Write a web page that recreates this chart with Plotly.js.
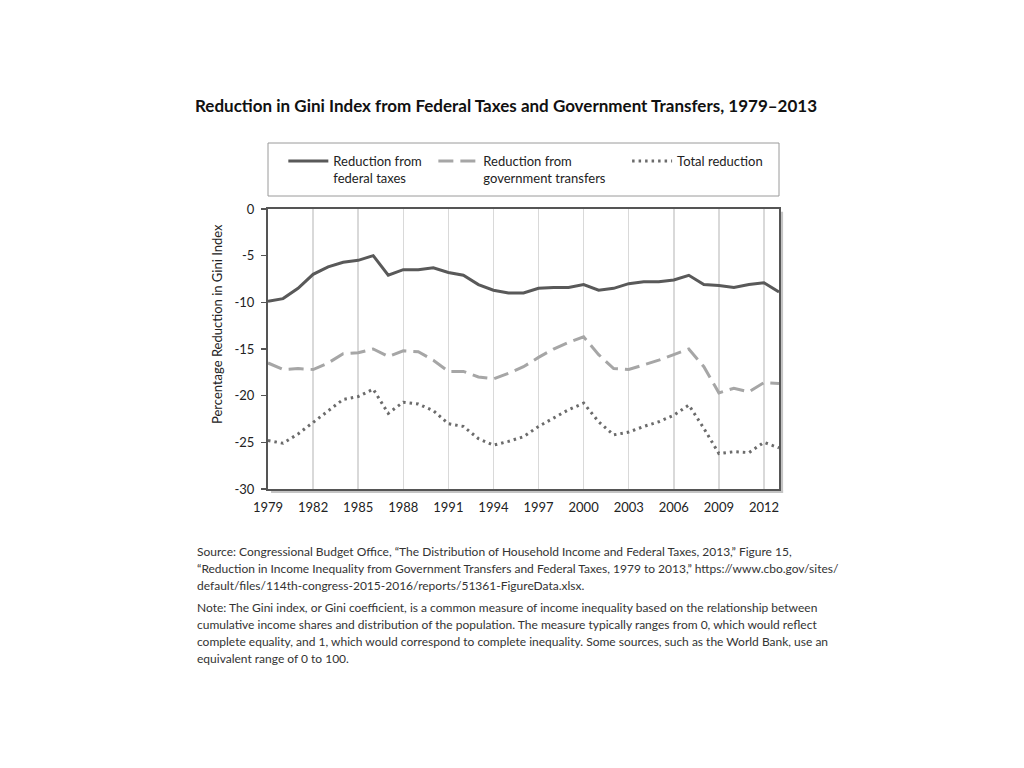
<!DOCTYPE html>
<html>
<head>
<meta charset="utf-8">
<script src="https://cdn.plot.ly/plotly-3.0.1.min.js"></script>
<style>
  html, body { margin: 0; padding: 0; background: #fff; }
  #chart { width: 1024px; height: 768px; }
</style>
</head>
<body>
<div id="chart"></div>
<script>
const years = [1979, 1980, 1981, 1982, 1983, 1984, 1985, 1986, 1987, 1988,
               1989, 1990, 1991, 1992, 1993, 1994, 1995, 1996, 1997, 1998,
               1999, 2000, 2001, 2002, 2003, 2004, 2005, 2006, 2007, 2008,
               2009, 2010, 2011, 2012, 2013];

const federalTaxes = [-9.9, -9.6, -8.5, -7.0, -6.2, -5.7, -5.5, -5.0, -7.1, -6.5,
                      -6.5, -6.3, -6.8, -7.1, -8.1, -8.7, -9.0, -9.0, -8.5, -8.4,
                      -8.4, -8.1, -8.7, -8.5, -8.0, -7.8, -7.8, -7.6, -7.1, -8.1,
                      -8.2, -8.4, -8.1, -7.9, -8.9];

const govTransfers = [-16.5, -17.2, -17.1, -17.2, -16.5, -15.5, -15.4, -15.0, -15.8, -15.2,
                      -15.3, -16.2, -17.4, -17.4, -18.0, -18.2, -17.6, -16.9, -15.9, -15.0,
                      -14.3, -13.7, -15.6, -17.1, -17.2, -16.7, -16.2, -15.6, -15.0, -16.9,
                      -19.7, -19.2, -19.6, -18.6, -18.7];

const totalReduction = [-24.8, -25.1, -24.1, -22.9, -21.7, -20.4, -20.1, -19.3, -21.9, -20.7,
                        -20.9, -21.6, -23.0, -23.3, -24.6, -25.3, -24.9, -24.4, -23.3, -22.4,
                        -21.5, -20.8, -22.8, -24.2, -23.9, -23.3, -22.8, -22.1, -21.0, -23.5,
                        -26.2, -26.0, -26.1, -25.0, -25.6];

const xTickVals = [1979, 1982, 1985, 1988, 1991, 1994, 1997, 2000, 2003, 2006, 2009, 2012];
const yTickVals = [0, -5, -10, -15, -20, -25, -30];
const yTickText = ["0", "-5", "-10", "-15", "-20", "-25", "-30"];

const seriesNames = ["Reduction from&nbsp;&nbsp;<br>federal taxes",
                     "Reduction from<br>government transfers&nbsp;&nbsp;&nbsp;&nbsp;&nbsp;",
                     "Total reduction"];

const titleText = "Reduction in Gini Index from Federal Taxes and Government Transfers, 1979–2013";
const yTitleText = "Percentage Reduction in Gini Index";
const sourceLines = [
  "Source: Congressional Budget Office, “The Distribution of Household Income and Federal Taxes, 2013,” Figure 15,",
  "“Reduction in Income Inequality from Government Transfers and Federal Taxes, 1979 to 2013,” https://www.cbo.gov/sites/",
  "default/files/114th-congress-2015-2016/reports/51361-FigureData.xlsx."
];
const noteLines = [
  "Note: The Gini index, or Gini coefficient, is a common measure of income inequality based on the relationship between",
  "cumulative income shares and distribution of the population. The measure typically ranges from 0, which would reflect",
  "complete equality, and 1, which would correspond to complete inequality. Some sources, such as the World Bank, use an",
  "equivalent range of 0 to 100."
];

const FONT = "Lato, 'Open Sans', sans-serif";

const traces = [
  { x: years, y: federalTaxes, name: seriesNames[0], type: "scatter", mode: "lines",
    line: { color: "#595959", width: 3 } },
  { x: years, y: govTransfers, name: seriesNames[1], type: "scatter", mode: "lines",
    line: { color: "#a6a6a6", width: 3, dash: "15px,7px" } },
  { x: years, y: totalReduction, name: seriesNames[2], type: "scatter", mode: "lines",
    line: { color: "#6b6b6b", width: 3, dash: "2.5px,4px" } }
];

// page layout helpers (pixel positions converted to paper coordinates)
const PL = 268, PR = 779, PT = 209, PB = 489;
const px2x = (px) => (px - PL) / (PR - PL);
const px2y = (py) => (PB - py) / (PB - PT);

const textAnnotations = [];
sourceLines.forEach((t, i) => textAnnotations.push({
  text: t, xref: "paper", yref: "paper", x: px2x(195), y: px2y(551 + 17 * i),
  xanchor: "left", yanchor: "middle", align: "left", showarrow: false,
  font: { family: FONT, size: 12, color: "#333333" }
}));
noteLines.forEach((t, i) => textAnnotations.push({
  text: t, xref: "paper", yref: "paper", x: px2x(195), y: px2y(607 + 17.3 * i),
  xanchor: "left", yanchor: "middle", align: "left", showarrow: false,
  font: { family: FONT, size: 12, color: "#333333" }
}));

const layout = {
  width: 1024, height: 768,
  margin: { l: PL, r: 1024 - PR, t: PT, b: 768 - PB },
  paper_bgcolor: "#ffffff",
  plot_bgcolor: "#ffffff",
  font: { family: FONT, color: "#222222", size: 13 },
  title: {
    text: titleText,
    font: { family: FONT, size: 17, color: "#111111", weight: "bold" },
    xref: "container", yref: "container",
    x: 195 / 1024, xanchor: "left",
    y: 1 - 106 / 768, yanchor: "middle"
  },
  xaxis: {
    range: [1979, 2013],
    tickvals: xTickVals,
    ticks: "",
    ticklabelstandoff: 5,
    showgrid: true, gridcolor: "#d9d9d9", gridwidth: 1.5,
    zeroline: false,
    showline: true, linecolor: "#555555", linewidth: 2, mirror: true,
    tickfont: { family: FONT, size: 13, color: "#222222" },
    fixedrange: true
  },
  yaxis: {
    range: [-30, 0],
    tickvals: yTickVals,
    ticktext: yTickText,
    ticks: "outside", ticklen: 5, tickwidth: 1.5, tickcolor: "#555555",
    ticklabelstandoff: 4,
    showgrid: false, zeroline: false,
    showline: true, linecolor: "#555555", linewidth: 2, mirror: true,
    tickfont: { family: FONT, size: 13, color: "#222222" },
    fixedrange: true
  },
  showlegend: true,
  legend: {
    orientation: "h",
    x: 0.03, xanchor: "left",
    y: 1.225, yanchor: "top",
    valign: "top",
    bgcolor: "rgba(0,0,0,0)",
    borderwidth: 0,
    font: { family: FONT, size: 13, color: "#222222" },
    itemwidth: 40,
    tracegroupgap: 0
  },
  shapes: [
    { type: "rect", xref: "paper", yref: "paper", x0: 0, x1: 1, y0: px2y(196), y1: px2y(143),
      line: { color: "#9a9a9a", width: 1 }, fillcolor: "rgba(0,0,0,0)" },
    { type: "rect", xref: "paper", yref: "paper", x0: 1.002, x1: 1.008, y0: -0.014, y1: 0.99,
      line: { width: 0 }, fillcolor: "#c4c4c4", layer: "below" },
    { type: "rect", xref: "paper", yref: "paper", x0: 0.006, x1: 1.008, y0: -0.014, y1: -0.004,
      line: { width: 0 }, fillcolor: "#c4c4c4", layer: "below" }
  ],
  annotations: [
    { text: yTitleText, textangle: -90, xref: "paper", yref: "paper",
      x: px2x(217), y: px2y(324), xanchor: "center", yanchor: "middle",
      showarrow: false, font: { family: FONT, size: 13, color: "#222222" } }
  ].concat(textAnnotations)
};

Plotly.newPlot("chart", traces, layout, { staticPlot: true, displayModeBar: false });
</script>
</body>
</html>
